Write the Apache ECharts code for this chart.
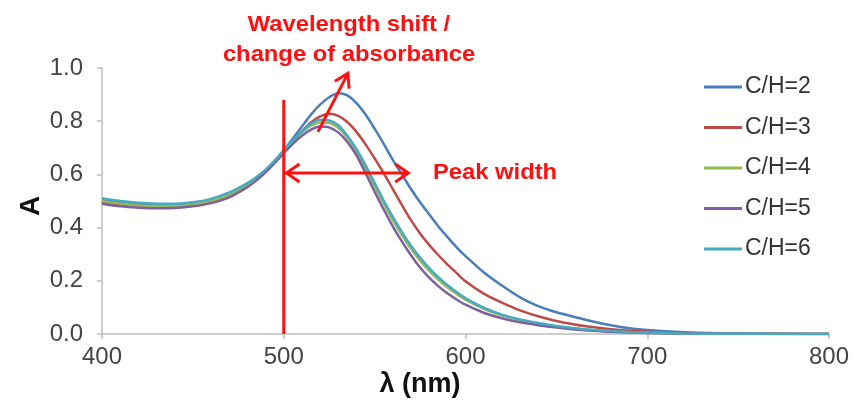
<!DOCTYPE html>
<html>
<head>
<meta charset="utf-8">
<script src="https://cdn.jsdelivr.net/npm/echarts@6/dist/echarts.min.js"></script>
<style>
html,body{margin:0;padding:0;background:#fff;}
#chart{width:854px;height:403px;}
</style>
</head>
<body>
<div id="chart"></div>
<script>
// ---- data ----
const wavelengths = [400,410,420,430,440,450,460,470,480,485,490,495,500,505,510,515,520,525,530,535,540,545,550,555,560,565,570,575,580,585,590,595,600,610,620,630,640,650,660,670,680,690,700,720,740,760,780,800];
const ch2 = [0.505,0.495,0.487,0.483,0.484,0.490,0.500,0.522,0.560,0.585,0.615,0.650,0.690,0.735,0.780,0.825,0.862,0.890,0.905,0.897,0.868,0.825,0.772,0.715,0.655,0.600,0.545,0.495,0.450,0.405,0.365,0.327,0.293,0.232,0.182,0.138,0.105,0.082,0.064,0.047,0.033,0.022,0.015,0.007,0.003,0.001,0.0005,0.000];
const ch3 = [0.495,0.485,0.478,0.475,0.476,0.482,0.494,0.517,0.555,0.580,0.612,0.647,0.685,0.725,0.762,0.795,0.818,0.828,0.820,0.797,0.760,0.713,0.660,0.605,0.545,0.485,0.428,0.378,0.335,0.297,0.262,0.230,0.198,0.152,0.118,0.089,0.067,0.049,0.036,0.026,0.018,0.012,0.008,0.003,0.0015,0.0007,0.0003,0.000];
const ch4 = [0.500,0.490,0.483,0.480,0.481,0.487,0.500,0.523,0.560,0.585,0.615,0.650,0.688,0.725,0.758,0.783,0.795,0.793,0.775,0.738,0.685,0.622,0.556,0.490,0.428,0.372,0.320,0.276,0.238,0.205,0.176,0.151,0.129,0.095,0.070,0.053,0.039,0.028,0.020,0.014,0.010,0.007,0.005,0.002,0.001,0.0005,0.0002,0.000];
const ch5 = [0.490,0.480,0.475,0.473,0.474,0.480,0.492,0.514,0.552,0.578,0.608,0.643,0.680,0.715,0.745,0.768,0.780,0.777,0.758,0.722,0.672,0.605,0.535,0.468,0.405,0.348,0.296,0.250,0.212,0.180,0.153,0.130,0.110,0.080,0.059,0.044,0.033,0.024,0.017,0.012,0.008,0.006,0.004,0.002,0.001,0.0005,0.0002,0.000];
const ch6 = [0.510,0.500,0.493,0.490,0.490,0.495,0.508,0.532,0.567,0.590,0.618,0.652,0.690,0.728,0.762,0.790,0.805,0.803,0.785,0.745,0.695,0.635,0.568,0.502,0.440,0.383,0.332,0.287,0.248,0.214,0.184,0.158,0.135,0.099,0.073,0.055,0.041,0.030,0.022,0.016,0.011,0.007,0.005,0.002,0.001,0.0005,0.0002,0.000];
const seriesNames = ['C/H=2','C/H=3','C/H=4','C/H=5','C/H=6'];
const seriesValues = [ch2, ch3, ch4, ch5, ch6];
const xTickLabels = [400,500,600,700,800];
const yTickLabels = [0.0,0.2,0.4,0.6,0.8,1.0];

// annotation anchors (data coordinates)
const markerLineX = 500;
const markerLineTop = 0.88;
const widthArrowY = 0.605;
const widthArrowFrom = 501.5;
const widthArrowTo = 568.5;
const shiftArrowFrom = [518.8, 0.76];
const shiftArrowTo = [535.3, 0.98];

// ---- style ----
const colors = ['#4A7EBB','#BE4B48','#98B954','#7D60A0','#46AAC5'];
const red = '#FF1010';
const FONT = 'Liberation Sans, Arial, sans-serif';

const chart = echarts.init(document.getElementById('chart'), null, {renderer:'canvas'});

const series = seriesNames.map((name, i) => ({
  name: name,
  type: 'line',
  data: wavelengths.map((w, k) => [w, seriesValues[i][k]]),
  smooth: 0.3,
  showSymbol: false,
  symbol: 'none',
  lineStyle: {color: colors[i], width: 2.5},
  itemStyle: {color: colors[i]},
  z: 2 + i
}));

chart.setOption({
  animation: false,
  backgroundColor: '#fff',
  grid: {left: 102, right: 25, top: 68, bottom: 69},
  xAxis: {
    type: 'value', min: xTickLabels[0], max: xTickLabels[xTickLabels.length-1], interval: 100,
    axisLine: {show: true, lineStyle: {color: '#BDBDBD', width: 1.5}},
    axisTick: {show: true, length: 5, lineStyle: {color: '#BDBDBD', width: 1.5}},
    axisLabel: {color: '#444', fontFamily: FONT, fontSize: 24, margin: 11},
    splitLine: {show: false}
  },
  yAxis: {
    type: 'value', min: yTickLabels[0], max: yTickLabels[yTickLabels.length-1], interval: 0.2,
    axisLine: {show: true, lineStyle: {color: '#BDBDBD', width: 1.5}},
    axisTick: {show: true, length: 5, lineStyle: {color: '#BDBDBD', width: 1.5}},
    axisLabel: {color: '#444', fontFamily: FONT, fontSize: 24, margin: 19,
      formatter: v => v.toFixed(1)},
    splitLine: {show: false}
  },
  legend: {
    orient: 'vertical', left: 699, top: 70.5,
    icon: 'rect', itemWidth: 38, itemHeight: 3, itemGap: 17.5,
    textStyle: {color: '#333', fontFamily: FONT, fontSize: 23, padding: [0,0,0,-2]},
    data: seriesNames
  },
  series: series
});

// annotations
function px(x, y) { return chart.convertToPixel({gridIndex: 0}, [x, y]); }
function chevron(tip, tail, len, half) {
  const dx = tip[0]-tail[0], dy = tip[1]-tail[1];
  const d = Math.hypot(dx, dy);
  const ux = dx/d, uy = dy/d, nx = -uy, ny = ux;
  return [[tip[0]-len*ux+half*nx, tip[1]-len*uy+half*ny], tip, [tip[0]-len*ux-half*nx, tip[1]-len*uy-half*ny]];
}
const vlTop = px(markerLineX, markerLineTop), vlBot = px(markerLineX, 0);
const waL = px(widthArrowFrom, widthArrowY), waR = px(widthArrowTo, widthArrowY);
const saA = px(shiftArrowFrom[0], shiftArrowFrom[1]), saB = px(shiftArrowTo[0], shiftArrowTo[1]);
const ls = {stroke: red, lineWidth: 3, fill: null, lineJoin: 'miter'};
const textFont = {fill: red, fontFamily: FONT, fontWeight: 'bold', fontSize: 22};

chart.setOption({
  graphic: [
    {type:'line', shape:{x1:vlTop[0], y1:vlTop[1], x2:vlBot[0], y2:vlBot[1]}, style: ls, z: 20},
    {type:'line', shape:{x1:waL[0], y1:waL[1], x2:waR[0], y2:waR[1]}, style: ls, z: 20},
    {type:'polyline', shape:{points: chevron(waL, waR, 13, 9)}, style: ls, z: 20},
    {type:'polyline', shape:{points: chevron(waR, waL, 13, 9)}, style: ls, z: 20},
    {type:'line', shape:{x1:saA[0], y1:saA[1], x2:saB[0], y2:saB[1]}, style: ls, z: 20},
    {type:'polyline', shape:{points: chevron(saB, saA, 13, 8)}, style: ls, z: 20},
    {type:'text', x: 433, y: 173, scaleX: 1.08, style: Object.assign({text: 'Peak width', align:'left', verticalAlign:'middle'}, textFont), z: 20},
    {type:'text', x: 349, y: 25, scaleX: 1.08, style: Object.assign({text: 'Wavelength shift /', align:'center', verticalAlign:'middle'}, textFont), z: 20},
    {type:'text', x: 349, y: 55, scaleX: 1.08, style: Object.assign({text: 'change of absorbance', align:'center', verticalAlign:'middle'}, textFont), z: 20},
    {type:'text', x: 420, y: 385, style: {text: 'λ (nm)', align:'center', verticalAlign:'middle', fill:'#111', fontFamily: FONT, fontWeight:'bold', fontSize: 27}, z: 20},
    {type:'text', x: 31, y: 206, rotation: Math.PI/2, style: {text: 'A', align:'center', verticalAlign:'middle', fill:'#111', fontFamily: FONT, fontWeight:'bold', fontSize: 28}, z: 20}
  ]
});
</script>
</body>
</html>
